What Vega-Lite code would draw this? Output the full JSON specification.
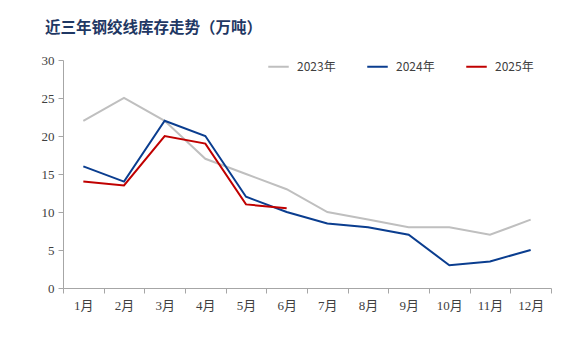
{
  "$schema": "https://vega.github.io/schema/vega-lite/v6.json",
  "width": 488,
  "height": 228,
  "autosize": {"type": "none"},
  "padding": {"left": 63, "top": 60, "right": 16, "bottom": 72},
  "background": "white",
  "title": {
    "text": "近三年钢绞线库存走势（万吨）",
    "anchor": "start",
    "frame": "group",
    "dx": -18,
    "offset": 18,
    "font": "Noto Sans CJK SC",
    "fontSize": 15.5,
    "fontWeight": "bold",
    "color": "#1F3864"
  },
  "data": {
    "values": [
      {"month": "1月", "year": "2023年", "value": 22},
      {"month": "2月", "year": "2023年", "value": 25},
      {"month": "3月", "year": "2023年", "value": 22},
      {"month": "4月", "year": "2023年", "value": 17},
      {"month": "5月", "year": "2023年", "value": 15},
      {"month": "6月", "year": "2023年", "value": 13},
      {"month": "7月", "year": "2023年", "value": 10},
      {"month": "8月", "year": "2023年", "value": 9},
      {"month": "9月", "year": "2023年", "value": 8},
      {"month": "10月", "year": "2023年", "value": 8},
      {"month": "11月", "year": "2023年", "value": 7},
      {"month": "12月", "year": "2023年", "value": 9},
      {"month": "1月", "year": "2024年", "value": 16},
      {"month": "2月", "year": "2024年", "value": 14},
      {"month": "3月", "year": "2024年", "value": 22},
      {"month": "4月", "year": "2024年", "value": 20},
      {"month": "5月", "year": "2024年", "value": 12},
      {"month": "6月", "year": "2024年", "value": 10},
      {"month": "7月", "year": "2024年", "value": 8.5},
      {"month": "8月", "year": "2024年", "value": 8},
      {"month": "9月", "year": "2024年", "value": 7},
      {"month": "10月", "year": "2024年", "value": 3},
      {"month": "11月", "year": "2024年", "value": 3.5},
      {"month": "12月", "year": "2024年", "value": 5},
      {"month": "1月", "year": "2025年", "value": 14},
      {"month": "2月", "year": "2025年", "value": 13.5},
      {"month": "3月", "year": "2025年", "value": 20},
      {"month": "4月", "year": "2025年", "value": 19},
      {"month": "5月", "year": "2025年", "value": 11},
      {"month": "6月", "year": "2025年", "value": 10.5}
    ]
  },
  "mark": {"type": "line", "strokeWidth": 2},
  "encoding": {
    "x": {
      "field": "month",
      "type": "ordinal",
      "sort": ["1月","2月","3月","4月","5月","6月","7月","8月","9月","10月","11月","12月"],
      "scale": {"type": "band", "paddingInner": 0, "paddingOuter": 0},
      "bandPosition": 0.5,
      "axis": {
        "title": null,
        "labelAngle": 0,
        "tickBand": "extent",
        "grid": false,
        "domainColor": "#A6A6A6",
        "tickColor": "#A6A6A6",
        "tickSize": 5,
        "labelPadding": 6,
        "labelFont": "Liberation Serif, Noto Sans CJK SC",
        "labelFontSize": 13,
        "labelColor": "#404040"
      }
    },
    "y": {
      "field": "value",
      "type": "quantitative",
      "scale": {"domain": [0, 30]},
      "axis": {
        "title": null,
        "values": [0, 5, 10, 15, 20, 25, 30],
        "grid": false,
        "domainColor": "#A6A6A6",
        "tickColor": "#A6A6A6",
        "tickSize": 5,
        "labelPadding": 4,
        "labelFont": "Liberation Serif",
        "labelFontSize": 13,
        "labelColor": "#404040"
      }
    },
    "color": {
      "field": "year",
      "type": "nominal",
      "scale": {"domain": ["2023年", "2024年", "2025年"], "range": ["#BFBFBF", "#0A3D8F", "#C00000"]},
      "legend": {
        "title": null,
        "orient": "none",
        "legendX": 204,
        "legendY": -5,
        "direction": "horizontal",
        "symbolType": "stroke",
        "symbolStrokeWidth": 2,
        "symbolSize": 420,
        "labelFont": "Noto Sans CJK SC",
        "labelFontSize": 12,
        "labelColor": "#404040",
        "labelLimit": 80,
        "columnPadding": 27,
        "labelOffset": 7
      }
    }
  },
  "config": {"view": {"stroke": null}}
}
